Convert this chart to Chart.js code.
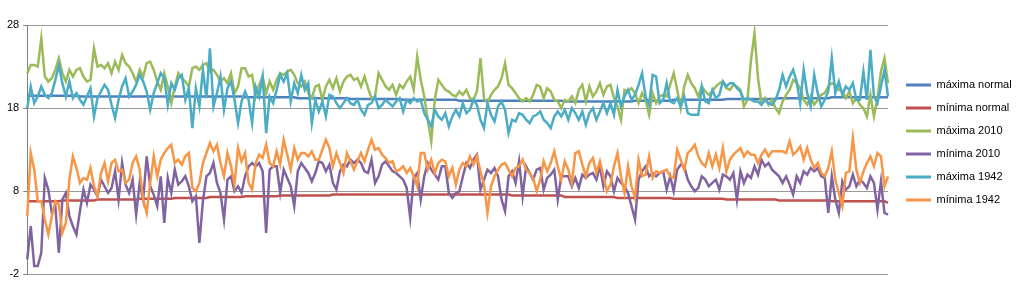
<!DOCTYPE html>
<html><head><meta charset="utf-8">
<script src="https://cdn.jsdelivr.net/npm/chart.js@4/dist/chart.umd.min.js"></script>
<style>html,body{margin:0;padding:0;background:#fff;overflow:hidden}</style>
</head><body>
<canvas id="c" width="1024" height="285"></canvas>
<script>
const seriesNames = ["máxima normal","mínima normal","máxima 2010","mínima 2010","máxima 1942","mínima 1942"];
const seriesColors = ["#4F81BD","#C0504D","#9BBB59","#8064A2","#4BACC6","#F79646"];
const yTicks = [-2, 8, 18, 28];

const maximaNormal = [
19.5,19.5,19.5,19.5,19.5,19.5,19.5,19.5,19.5,19.5,19.5,19.5,19.5,19.5,19.5,
19.4,19.4,19.4,19.4,19.4,19.4,19.4,19.4,19.4,19.4,19.4,19.4,19.4,19.4,19.4,19.4,19.4,19.4,19.4,19.4,19.4,19.4,19.4,19.4,19.4,19.4,19.4,19.4,19.4,19.4,19.4,19.4,19.4,19.4,19.4,19.4,19.4,19.4,19.4,19.4,19.4,19.4,19.4,19.4,19.4,19.4,19.4,
19.3,19.3,19.3,19.3,19.3,19.3,19.3,19.3,19.3,19.3,19.3,19.3,19.3,19.3,19.3,
19.2,19.2,19.2,19.2,19.2,19.2,19.2,19.2,19.2,19.2,19.2,19.2,19.2,19.2,19.2,
19.1,19.1,19.1,19.1,19.1,19.1,19.1,19.1,19.1,19.1,19.1,19.1,19.1,19.1,19.1,
19.0,19.0,19.0,19.0,19.0,19.0,19.0,19.0,19.0,19.0,19.0,19.0,19.0,19.0,19.0,19.0,
18.9,18.9,18.9,18.9,18.9,18.9,18.9,18.9,18.9,18.9,18.9,18.9,18.9,18.9,18.9,18.9,18.9,18.9,18.9,18.9,18.9,18.9,18.9,18.9,18.9,18.9,18.9,18.9,18.9,18.9,
18.8,18.8,18.8,18.8,18.8,18.8,18.8,18.8,18.8,18.8,18.8,18.8,18.8,18.8,18.8,18.8,18.8,18.8,18.8,18.8,
18.9,18.9,18.9,18.9,18.9,18.9,18.9,18.9,18.9,18.9,18.9,
19.0,19.0,19.0,19.0,19.0,19.0,19.0,19.0,19.0,19.0,19.0,19.0,19.0,19.0,19.0,
19.1,19.1,19.1,19.1,19.1,19.1,19.1,19.1,19.1,19.1,19.1,19.1,19.1,19.1,19.1,
19.2,19.2,19.2,19.2,19.2,19.2,19.2,19.2,19.2,19.2,19.2,19.2,19.2,19.2,19.2,
19.3,19.3,19.3,19.3,19.3,19.3,19.3,19.3,19.3,19.3,19.3,19.3,19.3,19.3,19.3,19.3,19.3
];

const minimaNormal = [
6.8,6.8,6.8,6.8,6.8,6.8,6.8,6.8,6.8,6.8,
6.9,6.9,6.9,6.9,6.9,6.9,6.9,6.9,6.9,6.9,
7.0,7.0,7.0,7.0,7.0,7.0,7.0,7.0,7.0,7.0,7.0,7.0,
7.1,7.1,7.1,7.1,7.1,7.1,7.1,7.1,7.1,7.1,
7.2,7.2,7.2,7.2,7.2,7.2,7.2,7.2,7.2,7.2,
7.3,7.3,7.3,7.3,7.3,7.3,7.3,7.3,7.3,7.3,
7.4,7.4,7.4,7.4,7.4,7.4,7.4,7.4,7.4,7.4,
7.5,7.5,7.5,7.5,7.5,7.5,7.5,7.5,7.5,7.5,7.5,7.5,7.5,7.5,7.5,
7.6,7.6,7.6,7.6,7.6,7.6,7.6,7.6,7.6,7.6,7.6,7.6,7.6,7.6,7.6,7.6,7.6,7.6,7.6,7.6,7.6,7.6,7.6,7.6,7.6,7.6,7.6,7.6,7.6,7.6,7.6,7.6,7.6,7.6,7.6,7.6,
7.6,7.6,7.6,7.6,7.6,7.6,7.6,7.6,7.6,7.6,7.6,7.6,7.6,7.6,7.6,
7.5,7.5,7.5,7.5,7.5,7.5,7.5,7.5,7.5,7.5,7.5,7.5,7.5,7.5,7.5,
7.3,7.3,7.3,7.3,7.3,7.3,7.3,7.3,7.3,7.3,7.3,7.3,7.3,7.3,7.3,
7.2,7.2,7.2,7.2,7.2,7.2,7.2,7.2,7.2,7.2,7.2,7.2,7.2,7.2,7.2,7.2,
7.1,7.1,7.1,7.1,7.1,7.1,7.1,7.1,7.1,7.1,7.1,7.1,7.1,7.1,7.1,
7.0,7.0,7.0,7.0,7.0,7.0,7.0,7.0,7.0,7.0,7.0,7.0,7.0,7.0,7.0,
6.9,6.9,6.9,6.9,6.9,6.9,6.9,6.9,6.9,6.9,6.9,6.9,6.9,6.9,6.9,
6.8,6.8,6.8,6.8,6.8,6.8,6.8,6.8,6.8,6.8,6.8,6.8,6.8,6.8,6.8,6.8,
6.6
];

const maxima2010 = [
22.2,23.2,23.2,23,26.4,21.8,21.2,21.6,22.6,24,22.2,21.2,22.6,21.8,22.6,22.8,21.8,21.2,21.4,25.2,23,23.2,22.8,23.4,22.2,23.6,22.6,24.4,23.4,23,22.2,21.2,22.6,21.8,23.4,23.6,22.6,21.2,20.2,22.2,20.6,18.6,20.6,22.2,21.6,21.2,20.6,22.8,23,22.6,23.2,23.4,22.4,22.6,22,21.2,21.6,21,22.2,19.8,20.6,22.8,
22.8,21.8,22,19.4,20.8,21.8,19.8,21.2,20.2,21.4,22.2,22,22.4,22.6,22,21,20.6,21.2,19.8,19.2,20.6,20.8,19,20.6,21.4,20.4,21.6,20,21.2,21.8,22,21.4,21.6,20.6,21.8,20.4,19.2,19.4,22.2,21.4,20.6,20.2,20.8,19.6,20.8,20.4,21.2,21.8,20.2,24.2,21.4,19.4,16.6,14,19,21.4,20.8,20.2,20,19.6,19.4,
20,19.6,20.2,19.2,19,20,24,19.2,18.6,19.6,20.2,20.6,21.6,23.4,20.8,20.4,19.8,19.2,18.8,19.2,18.8,19.6,20.8,20.6,19.2,20.4,20,19,18.8,18,19,18.8,19.4,18.6,20.2,20.8,18.8,20.6,19.4,20,21,19.6,20.6,20.8,19.2,18.2,16.6,20.2,20,20.4,19.8,18.6,19.8,19,17.2,19.8,18.6,19.4,19.6,19.4,20.8,
22.2,20.2,18,20.6,22,21,20.4,19.4,20.6,20,19.6,20,20.6,21,21.2,20.4,20.2,20.8,20.6,20.2,18.2,19,23.8,27,21.6,18.6,19.2,18.4,19,18,17.4,18.8,19.6,20.2,21.4,21,20.4,19,18.4,19.4,18.4,19,19.6,19.8,20.6,21,20.8,20.2,20,19.2,20,18.6,19.2,18.4,18,17,19.6,17,19.2,22.4,24,21
];

const minima2010 = [
-0.2,3.8,-1,-1,0.6,9.6,8.2,5.4,6.2,0.6,7,7.8,5,3.8,2.8,5.6,8.2,6.6,8.8,8.2,7.4,9.4,8.6,7.8,8.4,10.4,7,11.4,8.8,7.8,9.4,5.2,9,7,12.2,8.6,7.6,6.2,9.8,4.2,9.6,7.8,10.6,8.8,9.2,9.8,8.6,6.8,7.4,1.8,6.8,9.8,10.2,11.4,9,7.8,4.6,9.4,9.8,8,8.6,7.8,
9.8,11,11.4,11,11.4,10.4,3,10.6,11,11,7.8,10.6,9.6,8.6,6.2,10.4,11.4,10.8,10.2,9.2,10.2,11.6,11.4,10.4,11.2,9,8.2,10.4,11.2,11,11.8,11.4,11.8,11.4,10.4,10.2,11.8,9,9.8,11.2,11.6,11,10.4,10.2,9.8,9.4,8.4,4.8,9.6,10.2,7,9.8,11.4,10.6,10,9.4,11,11,7.8,7.2,7.8,
8,9.8,11.4,10.8,11.8,12.4,8.2,9.4,10.6,10.2,10.8,9.8,7,5.6,9.8,10.4,9,11.6,7.4,11,10.2,9.4,10.6,10.8,8.2,9.6,10,10.6,7,9.8,9.8,9.8,8.6,9.6,8.4,10,9.6,10,10.2,9.4,11,8.6,10.4,9.8,8,9.6,9,8.6,7.8,6.2,4.6,9.4,10.4,11,9.8,10.2,9.8,10.2,10.4,8.2,9.8,
8,10.6,11.2,11,9.4,8.6,8,8.4,9.8,9.4,8.6,9,9.4,8.2,10,9.8,9.4,10.2,7,10.4,9,10,9.6,11,10,11.8,11,11.4,10.6,10.2,9.8,9,9.8,8.8,7.6,9.8,9,10.4,10,10.8,10.4,10.8,9.8,9.6,5.4,9.8,7,5.4,9.2,8.2,8.6,10,8.6,9.4,9,8.4,9.8,9,5.8,9.2,5.4,5.2
];

const maxima1942 = [
18,20.6,18.6,19.4,20.6,19.6,19.2,19.8,21.4,23.2,21,19.4,21.2,19.2,19.8,19,18.4,19.4,20.4,17,19.2,20,20.8,20.2,18.4,16.8,19,20.6,21.6,19.4,20,20.8,22,21.2,20,17.8,19.8,21,22.2,21.6,18.4,21,20.2,21.6,22,19,20.4,15.6,20.4,18.2,22.6,19.2,25.2,18.2,19.8,21.8,17.8,20.4,21.2,19,16.2,18.8,
20,19,16.2,20.6,19.4,21.8,15,19.4,18.6,20.2,22,21.2,22.2,18.8,21,19.8,22,20.2,21,16.2,19,17.6,18.8,17,19.6,19.4,18.6,18,18.6,19.2,18.6,18.4,19,17.8,17.2,18.4,18.6,19.4,18,18.4,19,18.6,18.2,18.8,19.2,17.6,19,18.6,19.2,18.8,19,17.4,16.6,15.8,17.8,17,16.6,17.4,15.8,17,17.8,
17,18.6,17.4,17.8,19,18.4,16.6,15.6,18.6,17.2,16.4,18.2,18.8,17.8,15,16.6,16.4,17.4,17.2,16.6,16.2,17,17.2,17.6,16.6,16.2,15.6,17,17.6,17,17.8,16.6,18,17.4,16.6,17.6,16,17.4,18,16.6,17.6,18.6,17.4,18.6,17.2,20.2,18.2,19.4,20.2,19,19.6,20.8,22.2,19.4,18.4,22,21.8,18.6,19,21,18.8,
18.6,19.2,18.2,19.4,17.4,17.2,17.2,17.2,20.6,18.8,18.6,20.2,19.2,19.6,21.2,20.6,21,21,20.4,20,19,19.2,19,18.8,18.8,18.4,19,18.6,18.4,19,20.2,22,20.6,21.8,22.6,21.2,18.6,22.6,19.8,18.2,22,19.8,18.2,19,20,24,19.8,21.2,19.6,20.6,20.2,21,19,19,22.4,19,25,19.4,18.6,20.6,22.6,19.4
];

const minima1942 = [
5,12.6,10.6,6.8,6.8,4.6,2.8,5,6.8,6.4,3,4.2,9.4,12.2,10.8,9,9.6,9.4,10.8,8.6,7.4,10.2,11.4,9.2,11.4,11.8,10.4,10.6,9,9.4,11.4,12.2,10.6,7,5.4,9,12.2,9.8,11.8,12.6,13.2,13.6,11.4,11.8,11.2,12.2,12.6,8.4,8,9,11.4,12.6,13.8,12.8,13.6,11.4,9.8,12.6,11,8.8,13.2,11.6,
12.6,9,8.2,11.4,12.4,12,13.6,11.4,11,12.8,11.2,14.2,12.4,10.6,13.2,11.8,12.6,12.6,12.2,12.8,11.8,11.8,13,14.2,13.2,11,12.6,11.4,10.2,12.6,11.6,10.6,11.6,12.6,11.6,13,14.2,13,13.2,12.4,12,11.4,11.6,10.4,10.6,11,10.2,10.8,9.8,8.6,12.6,12.6,10.6,11.8,10.2,11.4,11.8,11.6,9.8,10.8,8.8,
10.6,11.4,11,12.2,11.2,12.2,10.4,8.8,5.4,8.6,9.8,10.6,11.2,11.4,10.6,9.8,10.8,11,11.8,10.6,10.2,9.6,8,9.4,11.6,10.4,11.4,12.8,11,9.4,11.6,10.6,9,12.6,12.8,11.2,9.8,11.4,12,10.2,11.6,9.8,8,8.8,11,12.6,9.8,7.8,11,8.6,7.2,11.8,9.8,10,12.2,9.6,10.4,10.2,10.4,10.6,9.8,
9.6,13,11.8,10.6,12.6,13,13.6,12.2,11.4,11,12.6,11,12.4,10.8,13.2,10.4,11.8,12.4,12.8,13.2,12.2,12.8,12.4,12.4,11.4,12.4,13,12.2,12.8,12.8,12.8,12.8,12.6,14,12.4,12.8,13.4,11.8,13.2,11.8,10.8,11.4,10.2,9.8,10.8,12.8,9.4,7.8,6.2,10.2,10.4,14.4,10.6,9,10.4,11.4,12.2,11,12.6,12.2,8.6,9.8
];

const seriesValues = [maximaNormal, minimaNormal, maxima2010, minima2010, maxima1942, minima1942];
const days = maxima2010.map((_, i) => String(i + 1));

const datasets = seriesNames.map((name, i) => ({
  label: name,
  data: seriesValues[i],
  borderColor: seriesColors[i],
  backgroundColor: seriesColors[i],
  borderWidth: 2.5,
  pointRadius: 0,
  tension: 0,
  fill: false,
  order: seriesNames.length - i
}));

const fixLegend = {
  id: 'fixLegend',
  beforeUpdate(chart) {
    const lg = chart.legend;
    if (lg && !lg._patched) {
      const f = lg.fit.bind(lg);
      lg.fit = function () { f(); this.width = 136; };
      lg._patched = true;
    }
  },
  afterLayout(chart) {
    const lg = chart.legend;
    if (lg) { lg.left = 894; lg.top = 0; lg.bottom = 285; }
  }
};

new Chart(document.getElementById('c'), {
  type: 'line',
  data: { labels: days, datasets },
  options: {
    responsive: false,
    animation: false,
    layout: { padding: { left: 3, top: 25, bottom: 10, right: 0 } },
    scales: {
      x: { display: false },
      y: {
        min: -2, max: 28,
        afterBuildTicks: s => { s.ticks = yTicks.map(v => ({ value: v })); },
        ticks: { font: { family: 'Liberation Sans', size: 11 }, color: '#000', padding: 4 },
        grid: { color: '#9a9a9a', tickColor: '#808080', tickLength: 4, lineWidth: 1 },
        border: { color: '#808080', width: 1 }
      }
    },
    plugins: {
      tooltip: { enabled: false },
      legend: {
        position: 'right',
        align: 'center',
        labels: {
          boxWidth: 25, boxHeight: 3, padding: 12, color: '#000',
          font: { family: 'Liberation Sans', size: 11 },
          sort: (a, b) => a.datasetIndex - b.datasetIndex,
          generateLabels(chart) {
            const items = Chart.defaults.plugins.legend.labels.generateLabels(chart);
            items.forEach(it => { it.lineWidth = 0; it.fillStyle = it.strokeStyle; });
            return items;
          }
        }
      }
    }
  },
  plugins: [fixLegend]
});
</script>
</body></html>
